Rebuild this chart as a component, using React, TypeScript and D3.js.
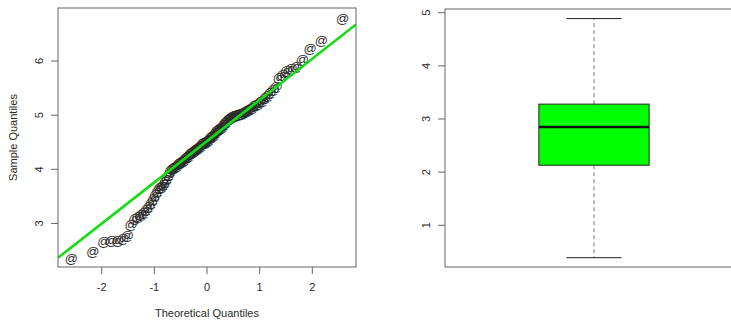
import React from "react";
import * as d3 from "d3";

// Sorted sample values shown in the normal Q-Q plot (n = 100)
const sampleValues: number[] = [
  2.36, 2.49, 2.66, 2.68, 2.69, 2.72, 2.77, 2.99, 3.1, 3.13,
  3.17, 3.21, 3.25, 3.31, 3.38, 3.46, 3.53, 3.6, 3.66, 3.69,
  3.72, 3.78, 3.84, 3.9, 3.97, 4.02, 4.04, 4.06, 4.08, 4.1,
  4.13, 4.15, 4.17, 4.19, 4.21, 4.23, 4.26, 4.29, 4.31, 4.33,
  4.35, 4.36, 4.38, 4.4, 4.42, 4.44, 4.47, 4.49, 4.5, 4.51,
  4.53, 4.56, 4.58, 4.6, 4.62, 4.65, 4.68, 4.71, 4.74, 4.76,
  4.78, 4.8, 4.83, 4.86, 4.89, 4.92, 4.94, 4.96, 4.98, 4.99,
  5.0, 5.01, 5.02, 5.03, 5.03, 5.05, 5.07, 5.09, 5.11, 5.13,
  5.15, 5.18, 5.2, 5.22, 5.25, 5.28, 5.32, 5.37, 5.42, 5.48,
  5.53, 5.7, 5.76, 5.82, 5.86, 5.9, 6.03, 6.23, 6.38, 6.79,
];

// Boxplot summary: lower whisker, Q1, median, Q3, upper whisker
const boxStats = { min: 0.39, q1: 2.13, median: 2.85, q3: 3.28, max: 4.89 };

const qqXTicks = [-2, -1, 0, 1, 2];
const qqYTicks = [3, 4, 5, 6];
const boxYTicks = [1, 2, 3, 4, 5];

// Inverse standard normal CDF (Acklam's rational approximation)
function qnorm(p: number): number {
  const a = [-39.69683028665376, 220.9460984245205, -275.9285104469687, 138.357751867269, -30.66479806614716, 2.506628277459239];
  const b = [-54.47609879822406, 161.5858368580409, -155.6989798598866, 66.80131188771972, -13.28068155288572];
  const c = [-0.007784894002430293, -0.3223964580411365, -2.400758277161838, -2.549732539343734, 4.374664141464968, 2.938163982698783];
  const d = [0.007784695709041462, 0.3224671290700398, 2.445134137142996, 3.754408661907416];
  const pl = 0.02425;
  if (p < pl) {
    const q = Math.sqrt(-2 * Math.log(p));
    return (((((c[0] * q + c[1]) * q + c[2]) * q + c[3]) * q + c[4]) * q + c[5]) /
      ((((d[0] * q + d[1]) * q + d[2]) * q + d[3]) * q + 1);
  }
  if (p > 1 - pl) {
    const q = Math.sqrt(-2 * Math.log(1 - p));
    return -(((((c[0] * q + c[1]) * q + c[2]) * q + c[3]) * q + c[4]) * q + c[5]) /
      ((((d[0] * q + d[1]) * q + d[2]) * q + d[3]) * q + 1);
  }
  const q = p - 0.5;
  const r = q * q;
  return (((((a[0] * r + a[1]) * r + a[2]) * r + a[3]) * r + a[4]) * r + a[5]) * q /
    (((((b[0] * r + b[1]) * r + b[2]) * r + b[3]) * r + b[4]) * r + 1);
}

const FONT = "'Liberation Sans', Arial, sans-serif";
const AXIS = "#666";
const TEXT = "#2a2a2a";

export default function App() {
  const n = sampleValues.length;
  const points = sampleValues.map((v, i) => ({ t: qnorm((i + 0.5) / n), s: v }));

  // Reference line through the first and third quartiles
  const yq = [d3.quantile(sampleValues, 0.25)!, d3.quantile(sampleValues, 0.75)!];
  const xq = [qnorm(0.25), qnorm(0.75)];
  const slope = (yq[1] - yq[0]) / (xq[1] - xq[0]);
  const intercept = yq[0] - slope * xq[0];

  // Left panel: Q-Q plot
  const L = { x0: 58, x1: 356, y0: 8, y1: 267 };
  const qx = d3.scaleLinear().domain([-2.83, 2.83]).range([L.x0, L.x1]);
  const qy = d3.scaleLinear().domain([2.196, 6.98]).range([L.y1, L.y0]);

  // Right panel: boxplot
  const R = { x0: 445, x1: 743, y0: 9, y1: 267 };
  const bx = d3.scaleLinear().domain([0.4, 1.6]).range([R.x0, R.x1]);
  const by = d3.scaleLinear().domain([0.215, 5.07]).range([R.y1, R.y0]);
  const boxHalf = 0.222;
  const capHalf = 0.111;

  return (
    <svg width={731} height={321} style={{ position: "absolute", left: 0, top: 0, background: "#fff" }}
      fontFamily={FONT}>
      <defs>
        <clipPath id="qq-clip">
          <rect x={L.x0} y={L.y0} width={L.x1 - L.x0} height={L.y1 - L.y0} />
        </clipPath>
      </defs>

      {/* Q-Q plot */}
      <g>
        <g clipPath="url(#qq-clip)">
          {points.map((p, i) => (
            <text key={i} x={qx(p.t)} y={qy(p.s)} textAnchor="middle" dominantBaseline="central"
              fontSize={13} fill="#2a2a2a">@</text>
          ))}
          <line x1={qx(-2.83)} y1={qy(intercept + slope * -2.83)} x2={qx(2.83)} y2={qy(intercept + slope * 2.83)}
            stroke="#11dd11" strokeWidth={2.6} />
        </g>
        <rect x={L.x0} y={L.y0} width={L.x1 - L.x0} height={L.y1 - L.y0} fill="none" stroke={AXIS} />
        {qqXTicks.map((t) => (
          <g key={t}>
            <line x1={qx(t)} x2={qx(t)} y1={L.y1} y2={L.y1 + 7} stroke={AXIS} />
            <text x={qx(t)} y={L.y1 + 24} textAnchor="middle" fontSize={11} fill={TEXT}>{t}</text>
          </g>
        ))}
        {qqYTicks.map((t) => (
          <g key={t}>
            <line x1={L.x0 - 7} x2={L.x0} y1={qy(t)} y2={qy(t)} stroke={AXIS} />
            <text transform={`translate(${L.x0 - 15},${qy(t)}) rotate(-90)`} textAnchor="middle"
              fontSize={11} fill={TEXT}>{t}</text>
          </g>
        ))}
        <text x={(L.x0 + L.x1) / 2} y={317} textAnchor="middle" fontSize={11} fill={TEXT}>Theoretical Quantiles</text>
        <text transform={`translate(17,${(L.y0 + L.y1) / 2}) rotate(-90)`} textAnchor="middle" fontSize={11}
          fill={TEXT}>Sample Quantiles</text>
      </g>

      {/* Boxplot */}
      <g>
        <line x1={bx(1)} x2={bx(1)} y1={by(boxStats.q3)} y2={by(boxStats.max)} stroke="#777" strokeDasharray="4,3" />
        <line x1={bx(1)} x2={bx(1)} y1={by(boxStats.q1)} y2={by(boxStats.min)} stroke="#777" strokeDasharray="4,3" />
        <line x1={bx(1 - capHalf)} x2={bx(1 + capHalf)} y1={by(boxStats.max)} y2={by(boxStats.max)} stroke="#222" />
        <line x1={bx(1 - capHalf)} x2={bx(1 + capHalf)} y1={by(boxStats.min)} y2={by(boxStats.min)} stroke="#222" />
        <rect x={bx(1 - boxHalf)} y={by(boxStats.q3)} width={bx(1 + boxHalf) - bx(1 - boxHalf)}
          height={by(boxStats.q1) - by(boxStats.q3)} fill="#00ff00" stroke="#222" />
        <line x1={bx(1 - boxHalf)} x2={bx(1 + boxHalf)} y1={by(boxStats.median)} y2={by(boxStats.median)}
          stroke="#111" strokeWidth={2.5} />
        <rect x={R.x0} y={R.y0} width={R.x1 - R.x0} height={R.y1 - R.y0} fill="none" stroke={AXIS} />
        {boxYTicks.map((t) => (
          <g key={t}>
            <line x1={R.x0 - 7} x2={R.x0} y1={by(t)} y2={by(t)} stroke={AXIS} />
            <text transform={`translate(${R.x0 - 15},${by(t)}) rotate(-90)`} textAnchor="middle"
              fontSize={11} fill={TEXT}>{t}</text>
          </g>
        ))}
      </g>
    </svg>
  );
}
